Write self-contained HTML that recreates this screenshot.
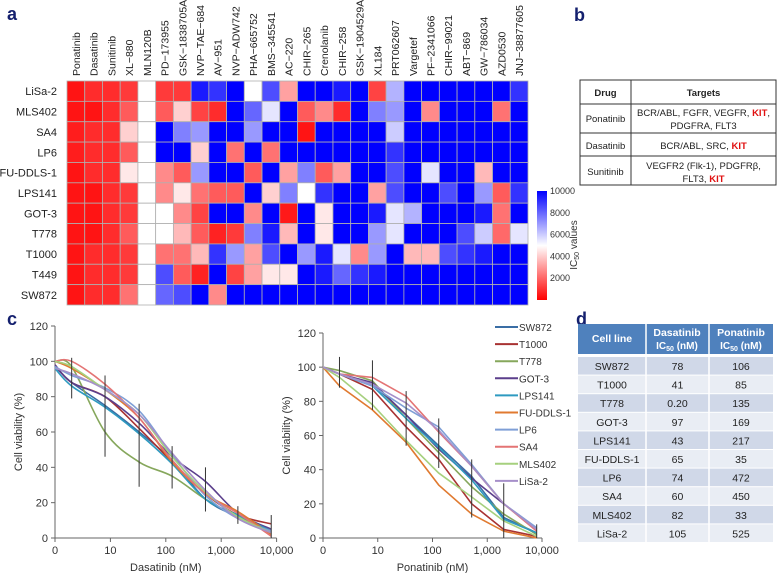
<!DOCTYPE html>
<html><head><meta charset="utf-8"><style>
body{margin:0;background:#fff;width:778px;height:573px;overflow:hidden;font-family:"Liberation Sans",sans-serif}
svg{position:absolute;left:0;top:0}
</style></head><body>
<svg id="s" width="778" height="573" viewBox="0 0 778 573" font-family="Liberation Sans, sans-serif">
<text x="7" y="20" font-size="18" font-weight="bold" fill="#14206e">a</text>
<text x="574" y="21" font-size="18" font-weight="bold" fill="#14206e">b</text>
<text x="7" y="325" font-size="18" font-weight="bold" fill="#14206e">c</text>
<text x="576" y="325" font-size="18" font-weight="bold" fill="#14206e">d</text>
<g id="hm"></g>
<g id="cb"></g>
<g id="tb"></g>
<g id="c1"></g>
<g id="c2"></g>
<g id="lg"></g>
<g id="td"></g>
</svg>
<script>
const drugs=["Ponatinib","Dasatinib","Sunitinib","XL−880","MLN120B","PD−173955","GSK−1838705A","NVP−TAE−684","AV−951","NVP−ADW742","PHA−665752","BMS−345541","AC−220","CHIR−265","Crenolanib","CHIR−258","GSK−1904529A","XL184","PRT062607","Vargetef","PF−2341066","CHIR−99021","ABT−869","GW−786034","AZD0530","JNJ−38877605"];
const cellLines=["LiSa-2","MLS402","SA4","LP6","FU-DDLS-1","LPS141","GOT-3","T778","T1000","T449","SW872"];
const ic50Grid=[
[0,500,500,800,5000,800,800,9500,9000,10000,5000,8500,3000,10000,10000,9500,10000,1000,6500,10000,10000,10000,10000,10000,10000,9000],
[0,0,500,1500,5000,1500,4000,1000,500,10000,8000,5500,10000,1500,2500,500,10000,7500,7000,10000,2500,10000,10000,10000,2000,10000],
[200,500,500,4000,5000,10000,7500,7000,10000,10000,7000,10000,10000,0,10000,10000,10000,10000,6000,10000,10000,10000,10000,10000,10000,10000],
[200,500,500,1500,5000,10000,10000,4000,10000,2000,10000,2000,10000,10000,10000,10000,10000,10000,9000,10000,10000,10000,10000,10000,10000,10000],
[0,500,500,4500,5000,2500,1500,7000,10000,10000,1500,10000,3000,7500,1500,3000,10000,10000,8500,10000,5500,10000,10000,3500,10000,10000],
[0,0,500,800,5000,2500,4500,2000,1500,1500,10000,4000,7500,5000,9000,10000,10000,3000,8500,10000,10000,8500,10000,7000,1500,9000],
[0,0,500,800,5000,5000,2500,1000,10000,10000,2500,10000,100,10000,4500,10000,10000,9500,5500,6500,10000,10000,10000,9500,2000,10000],
[0,0,500,1500,5000,5000,3500,1500,300,800,7500,9500,3500,10000,4500,10000,10000,7000,5500,10000,10000,10000,8500,6000,1800,5500],
[0,500,500,800,5000,2000,2000,3500,9000,7000,3000,8500,10000,7000,9500,5500,2500,7000,10000,3500,3500,8500,9000,9500,10000,10000],
[0,500,500,800,5000,8500,1500,300,10000,1000,3000,4500,4500,10000,9500,8000,9000,9500,10000,10000,10000,10000,10000,10000,10000,10000],
[0,500,500,2000,5000,8000,8500,10000,2500,10000,10000,10000,10000,10000,10000,10000,10000,10000,10000,10000,10000,10000,10000,10000,10000,10000]];
const cbTicks=[10000,8000,6000,4000,2000];

const conc=[0,2,8,33,130,520,2000,8000];
const seriesNames=["SW872","T1000","T778","GOT-3","LPS141","FU-DDLS-1","LP6","SA4","MLS402","LiSa-2"];
const seriesColors=["#3a6ea5","#a83232","#86a75c","#5b3f8c","#2e9ac0","#e07a30","#7f9fd6","#e47474","#a6d07e","#a68fc9"];
const dasatinibSW872=[97,88,75,60,44,22,12,4];
const dasatinibT1000=[98,88,80,62,43,25,13,8];
const dasatinibT778=[100,97,60,43,35,22,12,3];
const dasatinibGOT3=[98,88,80,65,46,32,14,5];
const dasatinibLPS141=[96,86,74,59,42,22,13,4];
const dasatinibFUDDLS1=[100,96,84,68,43,25,15,2];
const dasatinibLP6=[97,92,85,72,47,24,11,4];
const dasatinibSA4=[100,100,87,68,44,25,14,1];
const dasatinibMLS402=[100,97,84,70,46,26,12,3];
const dasatinibLiSa2=[96,93,84,70,48,27,11,3];
const ponatinibSW872=[100,96,90,72,54,36,12,3];
const ponatinibT1000=[100,96,87,65,46,20,5,1];
const ponatinibT778=[100,98,92,70,50,30,14,2];
const ponatinibGOT3=[100,96,91,72,52,35,20,5];
const ponatinibLPS141=[100,96,89,70,53,34,11,3];
const ponatinibFUDDLS1=[100,89,75,56,31,14,4,0];
const ponatinibLP6=[100,96,89,76,65,43,20,6];
const ponatinibSA4=[100,96,94,83,62,42,20,4];
const ponatinibMLS402=[100,94,78,57,38,24,10,1];
const ponatinibLiSa2=[100,96,90,79,63,42,20,5];
const dasErrLow=[null,79,46,29,28,15,8,0];
const dasErrHigh=[null,102,92,76,52,40,18,13];
const ponErrLow=[null,88,75,54,41,12,0,0];
const ponErrHigh=[null,106,104,86,70,46,32,8];
const xTickVals=[1,10,100,1000,10000];
const xTickLabels=["0","10","100","1,000","10,000"];
const yTicks=[0,20,40,60,80,100,120];

const d50=[["SW872","78","106"],["T1000","41","85"],["T778","0.20","135"],["GOT-3","97","169"],["LPS141","43","217"],["FU-DDLS-1","65","35"],["LP6","74","472"],["SA4","60","450"],["MLS402","82","33"],["LiSa-2","105","525"]];

const NS="http://www.w3.org/2000/svg";
function mk(p,t,a,txt){const e=document.createElementNS(NS,t);for(const k in a)e.setAttribute(k,a[k]);if(txt!==undefined)e.textContent=txt;p.appendChild(e);return e;}
function col(v){const t=Math.max(0,Math.min(1,v/10000));let r,g,b;
 if(t<0.5){const u=t/0.5;r=255;g=Math.round(20+235*u);b=Math.round(20+235*u);}
 else{const u=(t-0.5)/0.5;r=Math.round(255*(1-u));g=Math.round(255*(1-u));b=255;}
 return `rgb(${r},${g},${b})`;}

const hm=document.getElementById('hm');
const hx0=67,hx1=528,hy0=81,hy1=305,cw=(hx1-hx0)/drugs.length,rh=(hy1-hy0)/cellLines.length;
ic50Grid.forEach((row,i)=>row.forEach((v,j)=>{
 const r=mk(hm,'rect',{x:hx0+j*cw,y:hy0+i*rh,width:cw,height:rh,fill:col(v),stroke:'#b0b0b0','stroke-width':0.8});
 
 
}));
drugs.forEach((d,j)=>{const x=hx0+j*cw+cw/2+4;
 const t=mk(hm,'text',{x:x,y:76,'font-size':10.5,fill:'#222',transform:`rotate(-90 ${x} 76)`},d);
 
 });
cellLines.forEach((c,i)=>{
 const t=mk(hm,'text',{x:57,y:hy0+i*rh+rh/2+4,'font-size':11,'text-anchor':'end',fill:'#222'},c);
 
 });

const cb=document.getElementById('cb');
const defs=mk(cb,'defs',{});const lgd=mk(defs,'linearGradient',{id:'g',x1:0,y1:1,x2:0,y2:0});
[[0,'#ff0000'],[0.5,'#ffffff'],[1,'#0000ff']].forEach(s=>mk(lgd,'stop',{offset:s[0],'stop-color':s[1]}));
mk(cb,'rect',{x:537,y:191,width:10,height:109,fill:'url(#g)'});
cbTicks.forEach(v=>{const y=191+(10000-v)/10000*109;
 const t=mk(cb,'text',{x:550,y:y+3,'font-size':9,fill:'#333'},String(v));
 
 });
const ct=mk(cb,'text',{x:577,y:245,'font-size':10,fill:'#333','text-anchor':'middle',transform:'rotate(-90 577 245)'});
ct.innerHTML='IC<tspan font-size="7" dy="2">50</tspan><tspan dy="-2"> values</tspan>';



const tb=document.getElementById('tb');
const bx0=580,bx1=776,bxs=631,rowsY=[80,104,133,156,185];
mk(tb,'rect',{x:bx0,y:80,width:bx1-bx0,height:105,fill:'#fff',stroke:'#333','stroke-width':1});
mk(tb,'line',{x1:bxs,y1:80,x2:bxs,y2:185,stroke:'#333'});
rowsY.slice(1,4).forEach(y=>mk(tb,'line',{x1:bx0,y1:y,x2:bx1,y2:y,stroke:'#333'}));
function tt(x,y,html,bold){const t=mk(tb,'text',{x:x,y:y,'text-anchor':'middle','font-size':9.5,fill:'#222','font-weight':bold?'bold':'normal'});t.innerHTML=html;return t;}
const K='<tspan fill="#e01010" font-weight="bold">KIT</tspan>';
tt(605.5,96,'Drug',1);tt(703.5,96,'Targets',1);
tt(605.5,122,'Ponatinib');tt(703.5,116,'BCR/ABL, FGFR, VEGFR, '+K+',');tt(703.5,129,'PDGFRA, FLT3');
tt(605.5,149,'Dasatinib');tt(703.5,149,'BCR/ABL, SRC, '+K);
tt(605.5,175,'Sunitinib');tt(703.5,169,'VEGFR2 (Flk-1), PDGFRβ,');tt(703.5,182,'FLT3, '+K);

function lg10(c){return c<=1?0:Math.log10(c);}
function smooth(pts){let d=`M${pts[0][0]},${pts[0][1]}`;for(let i=0;i<pts.length-1;i++){const p0=pts[i-1]||pts[i],p1=pts[i],p2=pts[i+1],p3=pts[i+2]||p2;
 d+=` C${p1[0]+(p2[0]-p0[0])/6},${p1[1]+(p2[1]-p0[1])/6} ${p2[0]-(p3[0]-p1[0])/6},${p2[1]-(p3[1]-p1[1])/6} ${p2[0]},${p2[1]}`;}return d;}
function chart(g,x0,decW,yb,yt,series,errL,errH,isSmooth,title){
 const X=c=>x0+lg10(c)*decW, Y=v=>yb-v*(yb-yt)/120;
 mk(g,'line',{x1:x0,y1:yt,x2:x0,y2:yb,stroke:'#666'});
 mk(g,'line',{x1:x0,y1:yb,x2:x0+4*decW,y2:yb,stroke:'#666'});
 yTicks.forEach(v=>{mk(g,'line',{x1:x0-4,y1:Y(v),x2:x0,y2:Y(v),stroke:'#666'});
  const t=mk(g,'text',{x:x0-7,y:Y(v)+4,'font-size':11,'text-anchor':'end',fill:'#333'},String(v));
  
  });
 xTickVals.forEach((c,i)=>{mk(g,'line',{x1:X(c),y1:yb,x2:X(c),y2:yb+4,stroke:'#666'});
  const t=mk(g,'text',{x:X(c),y:yb+16,'font-size':11,'text-anchor':'middle',fill:'#333'},xTickLabels[i]);
  
  });
 const xt=mk(g,'text',{x:x0+2*decW,y:yb+33,'font-size':11,'text-anchor':'middle',fill:'#333'},title);
 
 
 const ym=(yb+yt)/2,yx=x0-33;
 const yt2=mk(g,'text',{x:yx,y:ym,'font-size':11,'text-anchor':'middle',fill:'#333',transform:`rotate(-90 ${yx} ${ym})`},'Cell viability (%)');
 
 
 series.forEach((s,k)=>{const pts=s.map((v,i)=>[X(conc[i]),Y(v)]);
  const p=mk(g,'path',{d:isSmooth?smooth(pts):'M'+pts.map(p=>p.join(',')).join(' L'),fill:'none',stroke:seriesColors[k],'stroke-width':1.6});
  
  });
 conc.forEach((c,i)=>{if(errL[i]===null)return;
  const e=mk(g,'line',{x1:X(c),y1:Y(errL[i]),x2:X(c),y2:Y(errH[i]),stroke:'#333','stroke-width':1});
  
  });
}
chart(document.getElementById('c1'),55,55.4,538,326,[dasatinibSW872,dasatinibT1000,dasatinibT778,dasatinibGOT3,dasatinibLPS141,dasatinibFUDDLS1,dasatinibLP6,dasatinibSA4,dasatinibMLS402,dasatinibLiSa2],dasErrLow,dasErrHigh,true,'Dasatinib (nM)');
chart(document.getElementById('c2'),323,54.75,538,333,[ponatinibSW872,ponatinibT1000,ponatinibT778,ponatinibGOT3,ponatinibLPS141,ponatinibFUDDLS1,ponatinibLP6,ponatinibSA4,ponatinibMLS402,ponatinibLiSa2],ponErrLow,ponErrHigh,false,'Ponatinib (nM)');

const lgG=document.getElementById('lg');
seriesNames.forEach((n,k)=>{const y=327+k*17.1;
 const l=mk(lgG,'line',{x1:495,y1:y,x2:518,y2:y,stroke:seriesColors[k],'stroke-width':2});
 
 
 const t=mk(lgG,'text',{x:519,y:y+4,'font-size':10,fill:'#333'},n);
 
 });

const td=document.getElementById('td');
const cx=[578,646,709,773];
mk(td,'rect',{x:578,y:324,width:195,height:30,fill:'#4f81bd'});
[['Cell line',612,342],['Dasatinib',677,336],['Ponatinib',741,336]].forEach(h=>mk(td,'text',{x:h[1],y:h[2],'font-size':10.5,'font-weight':'bold',fill:'#fff','text-anchor':'middle'},h[0]));
[677,741].forEach(x=>{const t=mk(td,'text',{x:x,y:349,'font-size':10,'font-weight':'bold',fill:'#fff','text-anchor':'middle'});t.innerHTML='IC<tspan font-size="7" dy="2">50</tspan><tspan dy="-2"> (nM)</tspan>';});
d50.forEach((r,i)=>{const y=357+i*18.6;
 mk(td,'rect',{x:578,y:y,width:195,height:17.6,fill:i%2?'#e9edf4':'#d0d8e8'});
 r.forEach((v,j)=>{const t=mk(td,'text',{x:(cx[j]+cx[j+1])/2,y:y+13,'font-size':10.5,fill:'#222','text-anchor':'middle'},v);
  
  });
});
mk(td,'line',{x1:646,y1:324,x2:646,y2:543,stroke:'#fff','stroke-width':1.5});
mk(td,'line',{x1:709,y1:324,x2:709,y2:543,stroke:'#fff','stroke-width':1.5});
</script>
</body></html>
